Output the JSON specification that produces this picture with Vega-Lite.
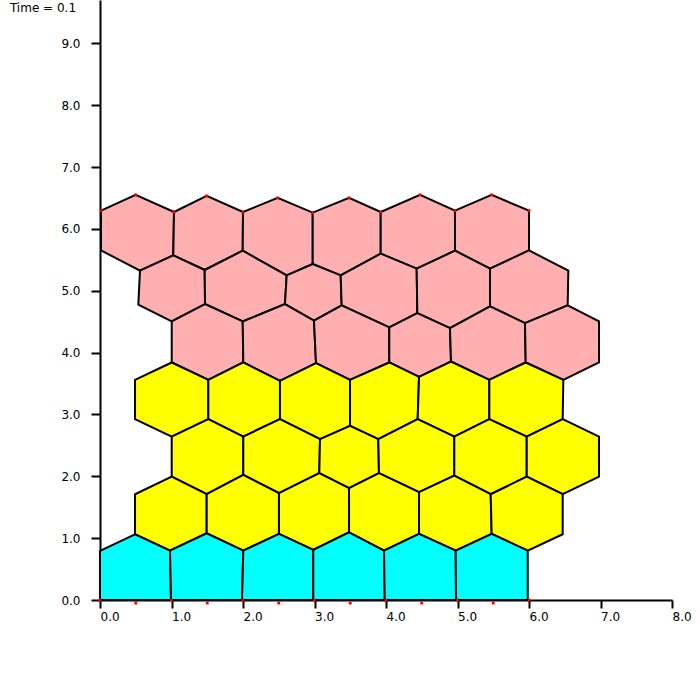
{
  "$schema": "https://vega.github.io/schema/vega-lite/v6.json",
  "width": 572,
  "height": 600,
  "autosize": {"type": "none"},
  "padding": {"left": 100, "top": 0, "right": 28, "bottom": 100},
  "background": "white",
  "config": {"view": {"stroke": null}},
  "layer": [
    {
      "data": {"values": [
        {"c":"p60","t":"pink","o":1,"x":0.014,"y":6.294},{"c":"p60","t":"pink","o":2,"x":0.499,"y":6.549},{"c":"p60","t":"pink","o":3,"x":1.035,"y":6.273},{"c":"p60","t":"pink","o":4,"x":1.025,"y":5.571},{"c":"p60","t":"pink","o":5,"x":0.559,"y":5.324},{"c":"p60","t":"pink","o":6,"x":0.014,"y":5.652},
        {"c":"p61","t":"pink","o":1,"x":1.035,"y":6.273},{"c":"p61","t":"pink","o":2,"x":1.492,"y":6.532},{"c":"p61","t":"pink","o":3,"x":2.0,"y":6.273},{"c":"p61","t":"pink","o":4,"x":1.996,"y":5.647},{"c":"p61","t":"pink","o":5,"x":1.464,"y":5.335},{"c":"p61","t":"pink","o":6,"x":1.025,"y":5.571},
        {"c":"p62","t":"pink","o":1,"x":2.0,"y":6.273},{"c":"p62","t":"pink","o":2,"x":2.485,"y":6.5},{"c":"p62","t":"pink","o":3,"x":2.975,"y":6.262},{"c":"p62","t":"pink","o":4,"x":2.975,"y":5.432},{"c":"p62","t":"pink","o":5,"x":2.611,"y":5.248},{"c":"p62","t":"pink","o":6,"x":1.996,"y":5.647},
        {"c":"p63","t":"pink","o":1,"x":2.975,"y":6.262},{"c":"p63","t":"pink","o":2,"x":3.483,"y":6.5},{"c":"p63","t":"pink","o":3,"x":3.926,"y":6.273},{"c":"p63","t":"pink","o":4,"x":3.926,"y":5.599},{"c":"p63","t":"pink","o":5,"x":3.366,"y":5.248},{"c":"p63","t":"pink","o":6,"x":2.975,"y":5.432},
        {"c":"p64","t":"pink","o":1,"x":3.926,"y":6.273},{"c":"p64","t":"pink","o":2,"x":4.476,"y":6.549},{"c":"p64","t":"pink","o":3,"x":4.965,"y":6.294},{"c":"p64","t":"pink","o":4,"x":4.965,"y":5.647},{"c":"p64","t":"pink","o":5,"x":4.429,"y":5.356},{"c":"p64","t":"pink","o":6,"x":3.926,"y":5.599},
        {"c":"p65","t":"pink","o":1,"x":4.965,"y":6.294},{"c":"p65","t":"pink","o":2,"x":5.478,"y":6.549},{"c":"p65","t":"pink","o":3,"x":6.0,"y":6.294},{"c":"p65","t":"pink","o":4,"x":6.0,"y":5.652},{"c":"p65","t":"pink","o":5,"x":5.455,"y":5.356},{"c":"p65","t":"pink","o":6,"x":4.965,"y":5.647},
        {"c":"p50","t":"pink","o":1,"x":0.559,"y":5.324},{"c":"p50","t":"pink","o":2,"x":1.025,"y":5.571},{"c":"p50","t":"pink","o":3,"x":1.464,"y":5.335},{"c":"p50","t":"pink","o":4,"x":1.469,"y":4.785},{"c":"p50","t":"pink","o":5,"x":1.003,"y":4.503},{"c":"p50","t":"pink","o":6,"x":0.536,"y":4.773},
        {"c":"p51","t":"pink","o":1,"x":1.464,"y":5.335},{"c":"p51","t":"pink","o":2,"x":1.996,"y":5.647},{"c":"p51","t":"pink","o":3,"x":2.611,"y":5.248},{"c":"p51","t":"pink","o":4,"x":2.587,"y":4.785},{"c":"p51","t":"pink","o":5,"x":1.996,"y":4.503},{"c":"p51","t":"pink","o":6,"x":1.469,"y":4.785},
        {"c":"p52","t":"pink","o":1,"x":2.611,"y":5.248},{"c":"p52","t":"pink","o":2,"x":2.975,"y":5.432},{"c":"p52","t":"pink","o":3,"x":3.366,"y":5.248},{"c":"p52","t":"pink","o":4,"x":3.38,"y":4.762},{"c":"p52","t":"pink","o":5,"x":2.993,"y":4.515},{"c":"p52","t":"pink","o":6,"x":2.587,"y":4.785},
        {"c":"p53","t":"pink","o":1,"x":3.366,"y":5.248},{"c":"p53","t":"pink","o":2,"x":3.926,"y":5.599},{"c":"p53","t":"pink","o":3,"x":4.429,"y":5.356},{"c":"p53","t":"pink","o":4,"x":4.438,"y":4.639},{"c":"p53","t":"pink","o":5,"x":4.046,"y":4.406},{"c":"p53","t":"pink","o":6,"x":3.38,"y":4.762},
        {"c":"p54","t":"pink","o":1,"x":4.429,"y":5.356},{"c":"p54","t":"pink","o":2,"x":4.965,"y":5.647},{"c":"p54","t":"pink","o":3,"x":5.455,"y":5.356},{"c":"p54","t":"pink","o":4,"x":5.455,"y":4.746},{"c":"p54","t":"pink","o":5,"x":4.895,"y":4.396},{"c":"p54","t":"pink","o":6,"x":4.438,"y":4.639},
        {"c":"p55","t":"pink","o":1,"x":5.455,"y":5.356},{"c":"p55","t":"pink","o":2,"x":6.0,"y":5.652},{"c":"p55","t":"pink","o":3,"x":6.55,"y":5.324},{"c":"p55","t":"pink","o":4,"x":6.541,"y":4.762},{"c":"p55","t":"pink","o":5,"x":5.944,"y":4.477},{"c":"p55","t":"pink","o":6,"x":5.455,"y":4.746},
        {"c":"p40","t":"pink","o":1,"x":1.003,"y":4.503},{"c":"p40","t":"pink","o":2,"x":1.469,"y":4.785},{"c":"p40","t":"pink","o":3,"x":1.996,"y":4.503},{"c":"p40","t":"pink","o":4,"x":2.004,"y":3.84},{"c":"p40","t":"pink","o":5,"x":1.515,"y":3.56},{"c":"p40","t":"pink","o":6,"x":1.003,"y":3.84},
        {"c":"p41","t":"pink","o":1,"x":1.996,"y":4.503},{"c":"p41","t":"pink","o":2,"x":2.587,"y":4.785},{"c":"p41","t":"pink","o":3,"x":2.993,"y":4.515},{"c":"p41","t":"pink","o":4,"x":3.021,"y":3.83},{"c":"p41","t":"pink","o":5,"x":2.517,"y":3.544},{"c":"p41","t":"pink","o":6,"x":2.004,"y":3.84},
        {"c":"p42","t":"pink","o":1,"x":2.993,"y":4.515},{"c":"p42","t":"pink","o":2,"x":3.38,"y":4.762},{"c":"p42","t":"pink","o":3,"x":4.046,"y":4.406},{"c":"p42","t":"pink","o":4,"x":4.046,"y":3.84},{"c":"p42","t":"pink","o":5,"x":3.497,"y":3.56},{"c":"p42","t":"pink","o":6,"x":3.021,"y":3.83},
        {"c":"p43","t":"pink","o":1,"x":4.046,"y":4.406},{"c":"p43","t":"pink","o":2,"x":4.438,"y":4.639},{"c":"p43","t":"pink","o":3,"x":4.895,"y":4.396},{"c":"p43","t":"pink","o":4,"x":4.909,"y":3.856},{"c":"p43","t":"pink","o":5,"x":4.462,"y":3.608},{"c":"p43","t":"pink","o":6,"x":4.046,"y":3.84},
        {"c":"p44","t":"pink","o":1,"x":4.895,"y":4.396},{"c":"p44","t":"pink","o":2,"x":5.455,"y":4.746},{"c":"p44","t":"pink","o":3,"x":5.944,"y":4.477},{"c":"p44","t":"pink","o":4,"x":5.954,"y":3.84},{"c":"p44","t":"pink","o":5,"x":5.445,"y":3.56},{"c":"p44","t":"pink","o":6,"x":4.909,"y":3.856},
        {"c":"p45","t":"pink","o":1,"x":5.944,"y":4.477},{"c":"p45","t":"pink","o":2,"x":6.541,"y":4.762},{"c":"p45","t":"pink","o":3,"x":6.979,"y":4.503},{"c":"p45","t":"pink","o":4,"x":6.979,"y":3.84},{"c":"p45","t":"pink","o":5,"x":6.48,"y":3.56},{"c":"p45","t":"pink","o":6,"x":5.954,"y":3.84},
        {"c":"y30","t":"yellow","o":1,"x":0.49,"y":3.56},{"c":"y30","t":"yellow","o":2,"x":1.003,"y":3.84},{"c":"y30","t":"yellow","o":3,"x":1.515,"y":3.56},{"c":"y30","t":"yellow","o":4,"x":1.515,"y":2.924},{"c":"y30","t":"yellow","o":5,"x":1.003,"y":2.642},{"c":"y30","t":"yellow","o":6,"x":0.49,"y":2.924},
        {"c":"y31","t":"yellow","o":1,"x":1.515,"y":3.56},{"c":"y31","t":"yellow","o":2,"x":2.004,"y":3.84},{"c":"y31","t":"yellow","o":3,"x":2.517,"y":3.544},{"c":"y31","t":"yellow","o":4,"x":2.517,"y":2.924},{"c":"y31","t":"yellow","o":5,"x":2.004,"y":2.642},{"c":"y31","t":"yellow","o":6,"x":1.515,"y":2.924},
        {"c":"y32","t":"yellow","o":1,"x":2.517,"y":3.544},{"c":"y32","t":"yellow","o":2,"x":3.021,"y":3.83},{"c":"y32","t":"yellow","o":3,"x":3.497,"y":3.56},{"c":"y32","t":"yellow","o":4,"x":3.497,"y":2.816},{"c":"y32","t":"yellow","o":5,"x":3.077,"y":2.6},{"c":"y32","t":"yellow","o":6,"x":2.517,"y":2.924},
        {"c":"y33","t":"yellow","o":1,"x":3.497,"y":3.56},{"c":"y33","t":"yellow","o":2,"x":4.046,"y":3.84},{"c":"y33","t":"yellow","o":3,"x":4.462,"y":3.608},{"c":"y33","t":"yellow","o":4,"x":4.443,"y":2.924},{"c":"y33","t":"yellow","o":5,"x":3.892,"y":2.6},{"c":"y33","t":"yellow","o":6,"x":3.497,"y":2.816},
        {"c":"y34","t":"yellow","o":1,"x":4.462,"y":3.608},{"c":"y34","t":"yellow","o":2,"x":4.909,"y":3.856},{"c":"y34","t":"yellow","o":3,"x":5.445,"y":3.56},{"c":"y34","t":"yellow","o":4,"x":5.445,"y":2.924},{"c":"y34","t":"yellow","o":5,"x":4.955,"y":2.642},{"c":"y34","t":"yellow","o":6,"x":4.443,"y":2.924},
        {"c":"y35","t":"yellow","o":1,"x":5.445,"y":3.56},{"c":"y35","t":"yellow","o":2,"x":5.954,"y":3.84},{"c":"y35","t":"yellow","o":3,"x":6.48,"y":3.56},{"c":"y35","t":"yellow","o":4,"x":6.471,"y":2.924},{"c":"y35","t":"yellow","o":5,"x":5.968,"y":2.642},{"c":"y35","t":"yellow","o":6,"x":5.445,"y":2.924},
        {"c":"y20","t":"yellow","o":1,"x":1.003,"y":2.642},{"c":"y20","t":"yellow","o":2,"x":1.515,"y":2.924},{"c":"y20","t":"yellow","o":3,"x":2.004,"y":2.642},{"c":"y20","t":"yellow","o":4,"x":2.004,"y":2.023},{"c":"y20","t":"yellow","o":5,"x":1.492,"y":1.71},{"c":"y20","t":"yellow","o":6,"x":1.003,"y":1.995},
        {"c":"y21","t":"yellow","o":1,"x":2.004,"y":2.642},{"c":"y21","t":"yellow","o":2,"x":2.517,"y":2.924},{"c":"y21","t":"yellow","o":3,"x":3.077,"y":2.6},{"c":"y21","t":"yellow","o":4,"x":3.067,"y":2.05},{"c":"y21","t":"yellow","o":5,"x":2.503,"y":1.727},{"c":"y21","t":"yellow","o":6,"x":2.004,"y":2.023},
        {"c":"y22","t":"yellow","o":1,"x":3.077,"y":2.6},{"c":"y22","t":"yellow","o":2,"x":3.497,"y":2.816},{"c":"y22","t":"yellow","o":3,"x":3.892,"y":2.6},{"c":"y22","t":"yellow","o":4,"x":3.902,"y":2.05},{"c":"y22","t":"yellow","o":5,"x":3.483,"y":1.807},{"c":"y22","t":"yellow","o":6,"x":3.067,"y":2.05},
        {"c":"y23","t":"yellow","o":1,"x":3.892,"y":2.6},{"c":"y23","t":"yellow","o":2,"x":4.443,"y":2.924},{"c":"y23","t":"yellow","o":3,"x":4.955,"y":2.642},{"c":"y23","t":"yellow","o":4,"x":4.955,"y":2.011},{"c":"y23","t":"yellow","o":5,"x":4.462,"y":1.743},{"c":"y23","t":"yellow","o":6,"x":3.902,"y":2.05},
        {"c":"y24","t":"yellow","o":1,"x":4.955,"y":2.642},{"c":"y24","t":"yellow","o":2,"x":5.445,"y":2.924},{"c":"y24","t":"yellow","o":3,"x":5.968,"y":2.642},{"c":"y24","t":"yellow","o":4,"x":5.968,"y":1.995},{"c":"y24","t":"yellow","o":5,"x":5.464,"y":1.71},{"c":"y24","t":"yellow","o":6,"x":4.955,"y":2.011},
        {"c":"y25","t":"yellow","o":1,"x":5.968,"y":2.642},{"c":"y25","t":"yellow","o":2,"x":6.471,"y":2.924},{"c":"y25","t":"yellow","o":3,"x":6.979,"y":2.642},{"c":"y25","t":"yellow","o":4,"x":6.979,"y":1.995},{"c":"y25","t":"yellow","o":5,"x":6.471,"y":1.71},{"c":"y25","t":"yellow","o":6,"x":5.968,"y":1.995},
        {"c":"y10","t":"yellow","o":1,"x":0.49,"y":1.71},{"c":"y10","t":"yellow","o":2,"x":1.003,"y":1.995},{"c":"y10","t":"yellow","o":3,"x":1.492,"y":1.71},{"c":"y10","t":"yellow","o":4,"x":1.492,"y":1.079},{"c":"y10","t":"yellow","o":5,"x":0.979,"y":0.798},{"c":"y10","t":"yellow","o":6,"x":0.49,"y":1.063},
        {"c":"y11","t":"yellow","o":1,"x":1.492,"y":1.71},{"c":"y11","t":"yellow","o":2,"x":2.004,"y":2.023},{"c":"y11","t":"yellow","o":3,"x":2.503,"y":1.727},{"c":"y11","t":"yellow","o":4,"x":2.503,"y":1.068},{"c":"y11","t":"yellow","o":5,"x":2.004,"y":0.798},{"c":"y11","t":"yellow","o":6,"x":1.492,"y":1.079},
        {"c":"y12","t":"yellow","o":1,"x":2.503,"y":1.727},{"c":"y12","t":"yellow","o":2,"x":3.067,"y":2.05},{"c":"y12","t":"yellow","o":3,"x":3.483,"y":1.807},{"c":"y12","t":"yellow","o":4,"x":3.483,"y":1.095},{"c":"y12","t":"yellow","o":5,"x":2.983,"y":0.809},{"c":"y12","t":"yellow","o":6,"x":2.503,"y":1.068},
        {"c":"y13","t":"yellow","o":1,"x":3.483,"y":1.807},{"c":"y13","t":"yellow","o":2,"x":3.902,"y":2.05},{"c":"y13","t":"yellow","o":3,"x":4.462,"y":1.743},{"c":"y13","t":"yellow","o":4,"x":4.462,"y":1.068},{"c":"y13","t":"yellow","o":5,"x":3.972,"y":0.798},{"c":"y13","t":"yellow","o":6,"x":3.483,"y":1.095},
        {"c":"y14","t":"yellow","o":1,"x":4.462,"y":1.743},{"c":"y14","t":"yellow","o":2,"x":4.955,"y":2.011},{"c":"y14","t":"yellow","o":3,"x":5.464,"y":1.71},{"c":"y14","t":"yellow","o":4,"x":5.478,"y":1.068},{"c":"y14","t":"yellow","o":5,"x":4.975,"y":0.798},{"c":"y14","t":"yellow","o":6,"x":4.462,"y":1.068},
        {"c":"y15","t":"yellow","o":1,"x":5.464,"y":1.71},{"c":"y15","t":"yellow","o":2,"x":5.968,"y":1.995},{"c":"y15","t":"yellow","o":3,"x":6.471,"y":1.71},{"c":"y15","t":"yellow","o":4,"x":6.471,"y":1.063},{"c":"y15","t":"yellow","o":5,"x":5.982,"y":0.798},{"c":"y15","t":"yellow","o":6,"x":5.478,"y":1.068},
        {"c":"c00","t":"cyan","o":1,"x":0.0,"y":0.0},{"c":"c00","t":"cyan","o":2,"x":0.0,"y":0.793},{"c":"c00","t":"cyan","o":3,"x":0.49,"y":1.063},{"c":"c00","t":"cyan","o":4,"x":0.979,"y":0.798},{"c":"c00","t":"cyan","o":5,"x":0.993,"y":0.0},
        {"c":"c01","t":"cyan","o":1,"x":0.993,"y":0.0},{"c":"c01","t":"cyan","o":2,"x":0.979,"y":0.798},{"c":"c01","t":"cyan","o":3,"x":1.492,"y":1.079},{"c":"c01","t":"cyan","o":4,"x":2.004,"y":0.798},{"c":"c01","t":"cyan","o":5,"x":1.986,"y":0.0},
        {"c":"c02","t":"cyan","o":1,"x":1.986,"y":0.0},{"c":"c02","t":"cyan","o":2,"x":2.004,"y":0.798},{"c":"c02","t":"cyan","o":3,"x":2.503,"y":1.068},{"c":"c02","t":"cyan","o":4,"x":2.983,"y":0.809},{"c":"c02","t":"cyan","o":5,"x":2.983,"y":0.0},
        {"c":"c03","t":"cyan","o":1,"x":2.983,"y":0.0},{"c":"c03","t":"cyan","o":2,"x":2.983,"y":0.809},{"c":"c03","t":"cyan","o":3,"x":3.483,"y":1.095},{"c":"c03","t":"cyan","o":4,"x":3.972,"y":0.798},{"c":"c03","t":"cyan","o":5,"x":3.982,"y":0.0},
        {"c":"c04","t":"cyan","o":1,"x":3.982,"y":0.0},{"c":"c04","t":"cyan","o":2,"x":3.972,"y":0.798},{"c":"c04","t":"cyan","o":3,"x":4.462,"y":1.068},{"c":"c04","t":"cyan","o":4,"x":4.975,"y":0.798},{"c":"c04","t":"cyan","o":5,"x":4.979,"y":0.0},
        {"c":"c05","t":"cyan","o":1,"x":4.979,"y":0.0},{"c":"c05","t":"cyan","o":2,"x":4.975,"y":0.798},{"c":"c05","t":"cyan","o":3,"x":5.478,"y":1.068},{"c":"c05","t":"cyan","o":4,"x":5.982,"y":0.798},{"c":"c05","t":"cyan","o":5,"x":5.982,"y":0.0}
      ]},
      "mark": {"type": "line", "filled": true, "interpolate": "linear-closed", "stroke": "black", "strokeWidth": 2, "fillOpacity": 1},
      "encoding": {
        "x": {"field": "x", "type": "quantitative", "scale": {"domain": [0, 8], "nice": false, "zero": false},
          "axis": {"values": [0,1,2,3,4,5,6,7,8], "format": ".1f", "title": null, "grid": false, "labelAlign": "left", "labelFlush": false, "labelOverlap": false, "tickSize": 8, "labelPadding": 3, "domainColor": "black", "tickColor": "black", "domainWidth": 2, "tickWidth": 2, "labelColor": "black", "labelFont": "DejaVu Sans", "labelFontSize": 12}},
        "y": {"field": "y", "type": "quantitative", "scale": {"domain": [0, 9.7], "nice": false, "zero": false},
          "axis": {"values": [0,1,2,3,4,5,6,7,8,9], "format": ".1f", "title": null, "grid": false, "labelFlush": false, "labelOverlap": false, "tickSize": 9, "labelPadding": 11, "domainColor": "black", "tickColor": "black", "domainWidth": 2, "tickWidth": 2, "labelColor": "black", "labelFont": "DejaVu Sans", "labelFontSize": 12}},
        "color": {"field": "t", "type": "nominal", "scale": {"domain": ["cyan", "yellow", "pink"], "range": ["#00ffff", "#ffff00", "#ffafaf"]}, "legend": null},
        "detail": {"field": "c", "type": "nominal"},
        "order": {"field": "o", "type": "quantitative"}
      }
    },
    {
      "data": {"values": [
        {"x":0.014,"y":6.294},{"x":0.499,"y":6.549},{"x":1.035,"y":6.273},{"x":1.492,"y":6.532},{"x":2.0,"y":6.273},{"x":2.485,"y":6.5},{"x":2.975,"y":6.262},{"x":3.483,"y":6.5},{"x":3.926,"y":6.273},{"x":4.476,"y":6.549},{"x":4.965,"y":6.294},{"x":5.478,"y":6.549},{"x":6.0,"y":6.294},
        {"x":0,"y":0},{"x":0.5,"y":-0.05},{"x":1,"y":0},{"x":1.5,"y":-0.05},{"x":2,"y":0},{"x":2.5,"y":-0.05},{"x":3,"y":0},{"x":3.5,"y":-0.05},{"x":4,"y":0},{"x":4.5,"y":-0.05},{"x":5,"y":0},{"x":5.5,"y":-0.05},{"x":6,"y":0}
      ]},
      "mark": {"type": "square", "color": "red", "size": 8, "opacity": 1},
      "encoding": {
        "x": {"field": "x", "type": "quantitative"},
        "y": {"field": "y", "type": "quantitative"}
      }
    },
    {
      "data": {"values": [{"label": "Time = 0.1", "x": -1.26, "y": 9.5}]},
      "mark": {"type": "text", "align": "left", "baseline": "alphabetic", "font": "DejaVu Sans", "fontSize": 12, "color": "black"},
      "encoding": {
        "x": {"field": "x", "type": "quantitative"},
        "y": {"field": "y", "type": "quantitative"},
        "text": {"field": "label"}
      }
    }
  ]
}
